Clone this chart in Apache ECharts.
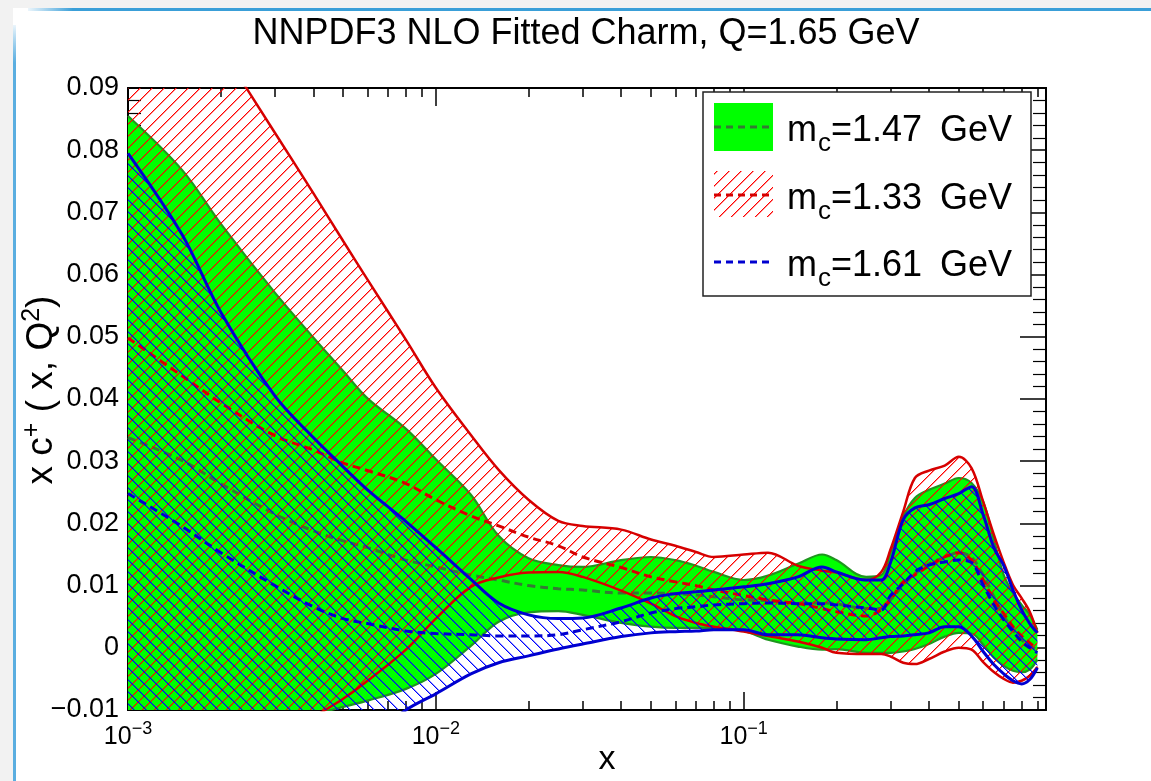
<!DOCTYPE html>
<html>
<head>
<meta charset="utf-8">
<script src="https://cdn.jsdelivr.net/npm/echarts@6/dist/echarts.min.js"></script>
<style>
html,body{margin:0;padding:0;background:#ffffff;}
#chart{width:1151px;height:781px;}
</style>
</head>
<body>
<div id="chart"></div>
<script>
// ---------------- data ----------------
const titleText = 'NNPDF3 NLO Fitted Charm, Q=1.65 GeV';
const xValues = [0.001,0.0015,0.002,0.003,0.004,0.005,0.006,0.008,
  0.01,0.013,0.016,0.02,0.025,0.03,0.04,0.05,0.06,0.07,0.08,
  0.1,0.12,0.15,0.18,0.2,0.25,0.28,0.3,0.33,0.36,0.4,0.45,0.5,0.55,0.6,0.65,0.7,0.75,0.8,0.85,0.9];

// mc = 1.47 GeV (green band)
const greenUpper = [0.0855,0.0768,0.0682,0.0571,0.0499,0.0445,0.0401,0.0352,
  0.0303,0.0246,0.0180,0.0144,0.0133,0.0130,0.0141,0.0146,0.0141,0.0132,0.0122,
  0.0109,0.0116,0.0135,0.0150,0.0141,0.0114,0.0117,0.0153,0.0211,0.0241,0.0254,0.0264,0.0273,0.0265,0.0235,0.0174,0.0117,0.0088,0.0069,0.0053,0.0029];
const greenLower = [-0.0244,-0.0196,-0.0164,-0.0129,-0.0108,-0.0095,-0.0085,-0.0066,
  -0.0042,0.0003,0.0042,0.0057,0.0059,0.0053,0.0040,0.0034,0.0032,0.0032,0.0032,
  0.0027,0.0013,0.0002,-0.0003,-0.0002,-0.0008,-0.0008,-0.0008,-0.0006,-0.0002,0.0006,0.0018,0.0024,0.0023,0.0005,-0.0016,-0.0029,-0.0037,-0.0039,-0.0035,-0.0019];
const greenCentral = [0.0338,0.0301,0.0264,0.0215,0.0188,0.0172,0.0161,0.0141,
  0.0130,0.0117,0.0109,0.0100,0.0095,0.0093,0.0088,0.0088,0.0087,0.0085,0.0082,
  0.0077,0.0076,0.0072,0.0072,0.0071,0.0063,0.0063,0.0077,0.0101,0.0119,0.0135,0.0145,0.0153,0.0145,0.0117,0.0082,0.0051,0.0029,0.0013,0.0003,-0.0003];

// mc = 1.33 GeV (red hatched band)
const redUpper = [0.1200,0.1064,0.0965,0.0828,0.0731,0.0654,0.0592,0.0495,
  0.0418,0.0342,0.0286,0.0238,0.0204,0.0196,0.0190,0.0174,0.0164,0.0154,0.0146,
  0.0150,0.0153,0.0132,0.0124,0.0121,0.0109,0.0122,0.0158,0.0219,0.0273,0.0285,0.0293,0.0307,0.0289,0.0235,0.0182,0.0137,0.0101,0.0080,0.0058,0.0024];
const redLower = [-0.0370,-0.0290,-0.0230,-0.0156,-0.0112,-0.0082,-0.0053,-0.0003,
  0.0047,0.0098,0.0113,0.0121,0.0122,0.0114,0.0092,0.0071,0.0051,0.0040,0.0034,
  0.0026,0.0019,0.0010,0.0000,-0.0008,-0.0010,-0.0010,-0.0014,-0.0024,-0.0026,-0.0018,-0.0006,0.0000,-0.0003,-0.0023,-0.0039,-0.0050,-0.0056,-0.0053,-0.0045,-0.0031];
const redCentral = [0.0498,0.0437,0.0394,0.0341,0.0318,0.0297,0.0285,0.0264,
  0.0238,0.0212,0.0196,0.0178,0.0164,0.0146,0.0129,0.0114,0.0106,0.0100,0.0093,
  0.0084,0.0077,0.0071,0.0063,0.0058,0.0051,0.0061,0.0077,0.0106,0.0117,0.0132,0.0146,0.0153,0.0141,0.0109,0.0077,0.0055,0.0034,0.0019,0.0008,-0.0003];

// mc = 1.61 GeV (blue hatched band)
const blueUpper = [0.0795,0.0664,0.0540,0.0405,0.0338,0.0291,0.0254,0.0203,
  0.0161,0.0110,0.0072,0.0053,0.0047,0.0048,0.0064,0.0080,0.0087,0.0090,0.0093,
  0.0098,0.0103,0.0114,0.0130,0.0122,0.0109,0.0109,0.0137,0.0206,0.0225,0.0230,0.0240,0.0248,0.0259,0.0214,0.0161,0.0132,0.0093,0.0061,0.0039,0.0024];
const blueLower = [-0.0520,-0.0440,-0.0370,-0.0290,-0.0228,-0.0180,-0.0148,-0.0100,
  -0.0074,-0.0042,-0.0024,-0.0013,-0.0002,0.0006,0.0018,0.0024,0.0026,0.0027,0.0029,
  0.0029,0.0021,0.0021,0.0016,0.0014,0.0013,0.0016,0.0018,0.0019,0.0021,0.0024,0.0034,0.0034,0.0019,-0.0006,-0.0027,-0.0042,-0.0053,-0.0058,-0.0051,-0.0032];
const blueCentral = [0.0248,0.0195,0.0153,0.0100,0.0066,0.0047,0.0039,0.0027,
  0.0023,0.0021,0.0019,0.0019,0.0021,0.0029,0.0042,0.0056,0.0063,0.0066,0.0069,
  0.0071,0.0072,0.0071,0.0071,0.0069,0.0064,0.0061,0.0084,0.0103,0.0122,0.0133,0.0138,0.0141,0.0137,0.0101,0.0069,0.0045,0.0026,0.0010,0.0000,-0.0008];

const legendMasses = ['1.47', '1.33', '1.61'];
const xMajorTicks = [0.001, 0.01, 0.1];
const xMinorTicks = [0.002,0.003,0.004,0.005,0.006,0.007,0.008,0.009,
  0.02,0.03,0.04,0.05,0.06,0.07,0.08,0.09,
  0.2,0.3,0.4,0.5,0.6,0.7,0.8,0.9];
const yMin = -0.01, yMax = 0.09, yStep = 0.01;
const xMin = 0.001, xMax = 0.96;

// ---------------- styling ----------------
const FONT = '"Liberation Sans", Arial, Helvetica, sans-serif';
const C_GREEN = '#00ff00', C_GREEN_EDGE = '#1f961f', C_GREEN_DASH = '#347a34';
const C_RED = '#d60000';
const C_BLUE = '#0000d0';
const SMOOTH = 0.35;

// pixel-exact diagonal hatch tile (dir > 0: "/" lines, dir < 0: "\" lines)
function hatch(r, g, b, dir) {
  const s = 12;
  const cv = document.createElement('canvas');
  cv.width = s; cv.height = s;
  const ctx = cv.getContext('2d');
  ctx.clearRect(0, 0, s, s);
  for (let i = 0; i < s; i++) {
    const yy = dir > 0 ? (s - 1 - i) : i;
    ctx.fillStyle = 'rgba(' + r + ',' + g + ',' + b + ',1)';
    ctx.fillRect(i, yy, 1, 1);
    ctx.fillStyle = 'rgba(' + r + ',' + g + ',' + b + ',0.45)';
    ctx.fillRect((i + 1) % s, yy, 1, 1);
  }
  return { image: cv, repeat: 'repeat' };
}
const redPattern = hatch(255, 0, 0, 1);
const bluePattern = hatch(0, 0, 255, -1);
const legendRedPattern = hatch(255, 0, 0, 1);

const pairs = arr => xValues.map((x, i) => [x, arr[i]]);
// band data are stored as [y, x] so that the stacked dimension is y (encode maps them back)
const yxPairs = arr => xValues.map((x, i) => [arr[i], x]);
const yxDiff = (up, lo) => xValues.map((x, i) => [up[i] - lo[i], x]);

function band(id, lower, upper, fill, z) {
  const common = { type: 'line', stack: id, stackStrategy: 'all', symbol: 'none', smooth: SMOOTH,
    silent: true, z: z, encode: { x: 1, y: 0 }, lineStyle: { width: 0, opacity: 0 } };
  return [
    Object.assign({}, common, { name: id + ' lower', data: yxPairs(lower) }),
    Object.assign({}, common, { name: id + ' band', data: yxDiff(upper, lower),
      areaStyle: { color: fill, opacity: 1 } })
  ];
}
function line(name, arr, color, width, z, dashed) {
  return { type: 'line', name: name, data: pairs(arr), symbol: 'none', smooth: SMOOTH, silent: true, z: z,
    lineStyle: { color: color, width: width, type: dashed ? [8, 5] : 'solid', cap: 'butt' } };
}

const series = [].concat(
  band('mc147', greenLower, greenUpper, C_GREEN, 2),
  [line('mc147 up', greenUpper, C_GREEN_EDGE, 2.2, 3), line('mc147 lo', greenLower, C_GREEN_EDGE, 2.2, 3),
   line('mc=1.47 GeV', greenCentral, C_GREEN_DASH, 3, 3, true)],
  band('mc133', redLower, redUpper, redPattern, 4),
  [line('mc133 up', redUpper, C_RED, 2.5, 5), line('mc133 lo', redLower, C_RED, 2.5, 5),
   line('mc=1.33 GeV', redCentral, C_RED, 3, 5, true)],
  band('mc161', blueLower, blueUpper, bluePattern, 6),
  [line('mc161 up', blueUpper, C_BLUE, 3, 7), line('mc161 lo', blueLower, C_BLUE, 3, 7),
   line('mc=1.61 GeV', blueCentral, C_BLUE, 3, 7, true)]
);

function xAxisDef(pos, ticks, len, labels) {
  return {
    type: 'log', logBase: 10, min: xMin, max: xMax, position: pos, gridIndex: 0,
    axisLine: { show: true, onZero: false, lineStyle: { color: '#000', width: 2 } },
    axisTick: { show: true, inside: true, length: len, customValues: ticks, lineStyle: { color: '#000', width: 1.5 } },
    splitLine: { show: false }, minorTick: { show: false }, minorSplitLine: { show: false },
    axisLabel: labels ? {
      show: true, customValues: xMajorTicks, margin: 10, color: '#000',
      formatter: v => { const e = Math.round(Math.log10(v)); return '{b|10}{s|' + (e < 0 ? '\u2212' : '') + Math.abs(e) + '}'; },
      rich: {
        b: { fontFamily: FONT, fontSize: 25, color: '#000', lineHeight: 30, verticalAlign: 'bottom' },
        s: { fontFamily: FONT, fontSize: 18, color: '#000', lineHeight: 18, verticalAlign: 'top' }
      }
    } : { show: false }
  };
}
function yAxisDef(pos, labels) {
  return {
    type: 'value', min: yMin, max: yMax, interval: yStep, position: pos,
    axisLine: { show: true, onZero: false, lineStyle: { color: '#000', width: 2 } },
    axisTick: { show: true, inside: true, length: 26, lineStyle: { color: '#000', width: 1.5 } },
    minorTick: { show: true, splitNumber: 5, length: 13, lineStyle: { color: '#000', width: 1.2 } },
    splitLine: { show: false },
    axisLabel: labels ? {
      show: true, margin: 9, color: '#000', fontFamily: FONT, fontSize: 27,
      formatter: v => Math.abs(v) < 1e-9 ? '0' : v.toFixed(2).replace('-', '\u2212')
    } : { show: false }
  };
}

const legendRows = [127, 195, 262];
const legendGraphics = [
  { type: 'rect', z: 100, shape: { x: 703, y: 92, width: 328, height: 204 },
    style: { fill: '#fff', stroke: '#222', lineWidth: 1.5 } },
  { type: 'rect', z: 101, shape: { x: 714, y: 103, width: 59, height: 48 }, style: { fill: C_GREEN } },
  { type: 'rect', z: 101, shape: { x: 714, y: 171, width: 59, height: 46 }, style: { fill: legendRedPattern } },
  { type: 'line', z: 102, shape: { x1: 714, y1: legendRows[0], x2: 773, y2: legendRows[0] },
    style: { stroke: C_GREEN_DASH, lineWidth: 3, lineDash: [7, 5] } },
  { type: 'line', z: 102, shape: { x1: 714, y1: legendRows[1], x2: 773, y2: legendRows[1] },
    style: { stroke: C_RED, lineWidth: 3, lineDash: [7, 5] } },
  { type: 'line', z: 102, shape: { x1: 714, y1: legendRows[2], x2: 773, y2: legendRows[2] },
    style: { stroke: C_BLUE, lineWidth: 3, lineDash: [7, 5] } }
].concat(legendMasses.map((m, i) => ({
  type: 'text', z: 102, x: 787, y: legendRows[i] + 4,
  style: {
    text: '{m|m}{s|c}{m|=' + m + '}{g|}{m|GeV}', align: 'left', verticalAlign: 'middle',
    rich: {
      m: { fontFamily: FONT, fontSize: 36, fill: '#000', lineHeight: 36, verticalAlign: 'top' },
      s: { fontFamily: FONT, fontSize: 26, fill: '#000', lineHeight: 26, padding: [18, 0, 0, 1], verticalAlign: 'top' },
      g: { width: 18, lineHeight: 36, verticalAlign: 'top' }
    }
  }
})));

const decoGraphics = [
  { type: 'rect', z: 0, shape: { x: 0, y: 0, width: 1151, height: 8 }, style: { fill: '#f2f2f2' } },
  { type: 'rect', z: 0, shape: { x: 0, y: 0, width: 13, height: 781 }, style: { fill: '#f2f2f2' } },
  { type: 'rect', z: 1, shape: { x: 28, y: 8, width: 1123, height: 3 },
    style: { fill: { type: 'linear', x: 0, y: 0, x2: 1, y2: 0, colorStops: [
      { offset: 0, color: 'rgba(60,160,220,0.1)' }, { offset: 0.04, color: '#3a9fd8' }, { offset: 1, color: '#3a9fd8' }] } } },
  { type: 'rect', z: 1, shape: { x: 13, y: 25, width: 3, height: 756 },
    style: { fill: { type: 'linear', x: 0, y: 0, x2: 0, y2: 1, colorStops: [
      { offset: 0, color: 'rgba(60,160,220,0.1)' }, { offset: 0.05, color: '#5aaee0' }, { offset: 1, color: '#5aaee0' }] } } }
];

const axisTitleGraphics = [
  { type: 'text', z: 10, x: 40, y: 390, rotation: Math.PI / 2,
    style: {
      text: '{m|x c}{s|+}{m| ( x, Q}{s|2}{m|)}', align: 'center', verticalAlign: 'middle',
      rich: {
        m: { fontFamily: FONT, fontSize: 37, fill: '#000', lineHeight: 40, verticalAlign: 'bottom' },
        s: { fontFamily: FONT, fontSize: 25, fill: '#000', lineHeight: 25, verticalAlign: 'top' }
      }
    } },
  { type: 'text', z: 10, x: 607, y: 760,
    style: { text: 'x', align: 'center', verticalAlign: 'middle', fontFamily: FONT, fontSize: 34, fill: '#000' } }
];

const chart = echarts.init(document.getElementById('chart'), null, { renderer: 'canvas' });
chart.setOption({
  animation: false,
  backgroundColor: '#ffffff',
  title: { text: titleText, left: 586, top: 15, textAlign: 'center', padding: 0,
    textStyle: { fontFamily: FONT, fontSize: 36, fontWeight: 'normal', color: '#000', lineHeight: 38 } },
  grid: { left: 128, right: 105, top: 88, bottom: 71, containLabel: false },
  xAxis: [
    xAxisDef('bottom', xMajorTicks, 18, true),
    xAxisDef('bottom', xMinorTicks, 9, false),
    xAxisDef('top', xMajorTicks, 18, false),
    xAxisDef('top', xMinorTicks, 9, false)
  ],
  yAxis: [yAxisDef('left', true), yAxisDef('right', false)],
  series: series,
  graphic: decoGraphics.concat(axisTitleGraphics, legendGraphics)
});
</script>
</body>
</html>
